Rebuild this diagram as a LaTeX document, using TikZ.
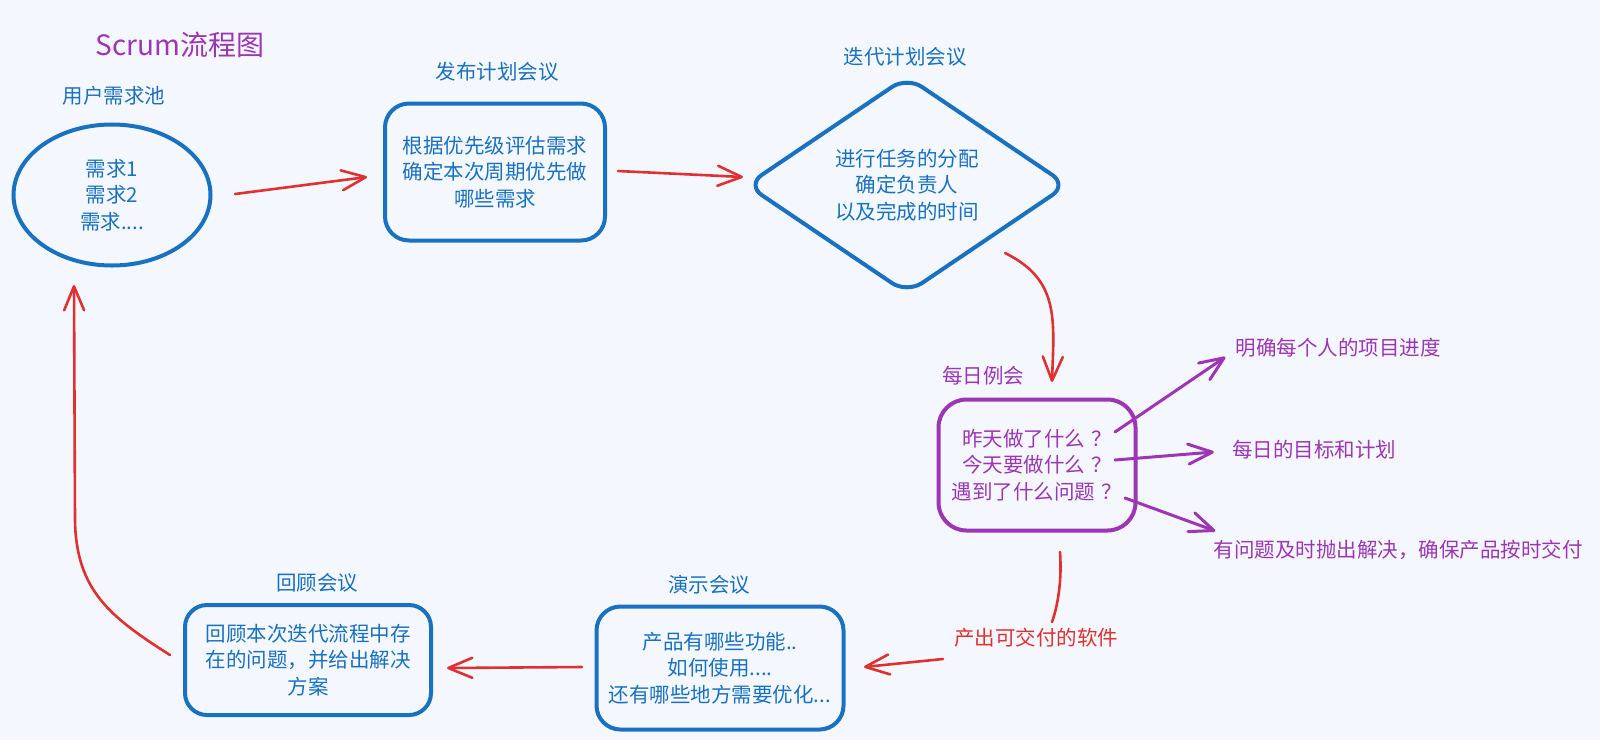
\documentclass[tikz,border=0pt]{standalone}
\usepackage{fontspec}
\setmainfont{Noto Sans CJK SC}
\usetikzlibrary{arrows.meta,shapes.geometric,calc}
\definecolor{bg}{HTML}{F4F8FE}
\definecolor{eblue}{HTML}{1971C2}
\definecolor{ered}{HTML}{E03131}
\definecolor{epurple}{HTML}{9C36B5}
\newcommand{\myqm}{\hspace{0.3em}？}
\begin{document}
\begin{tikzpicture}[x=1pt,y=-1pt,
  txt/.style={font=\fontsize{20.5}{26.5}\selectfont, align=center, inner sep=0pt},
  bluebox/.style={txt, draw=eblue, text=eblue, line width=4pt, rounded corners=24pt},
  bluelbl/.style={txt, text=eblue},
  purplelbl/.style={txt, text=epurple},
  redlbl/.style={txt, text=ered},
  barb/.style={-{Straight Barb[length=24pt,width=20pt,round]}},
  redarrow/.style={draw=ered, line width=2.6pt, line cap=round, barb},
  redline/.style={draw=ered, line width=2.6pt, line cap=round},
  purplearrow/.style={draw=epurple, line width=3pt, line cap=round, barb}
]
\useasboundingbox (0,0) rectangle (1600,740);
\fill[bg] (0,0) rectangle (1600,740);

% title
\node[txt, text=epurple, font=\fontsize{28}{32}\selectfont] (title) at (180,45) {Scrum流程图};

% user pool
\node[bluelbl] (poolLbl) at (114,96) {用户需求池};
\node[txt, ellipse, draw=eblue, text=eblue, line width=4pt, minimum width=197pt, minimum height=141pt] (pool) at (112,195) {需求1\\需求2\\需求....};

% release planning
\node[bluelbl] (relLbl) at (497,72) {发布计划会议};
\node[bluebox, minimum width=220pt, minimum height=137pt] (rel) at (495,172) {根据优先级评估需求\\确定本次周期优先做\\哪些需求};

% iteration planning
\node[bluelbl] (itLbl) at (905,57) {迭代计划会议};
\node[txt, diamond, draw=eblue, text=eblue, line width=4pt, rounded corners=18pt, minimum width=322pt, minimum height=218pt] (it) at (907,185) {进行任务的分配\\确定负责人\\以及完成的时间};

% daily
\node[purplelbl] (dayLbl) at (983,376) {每日例会};
\node[txt, draw=epurple, text=epurple, line width=4pt, rounded corners=28pt, minimum width=197pt, minimum height=131pt] (day) at (1037,465) {昨天做了什么\myqm\\今天要做什么\myqm\\遇到了什么问题\myqm};

\node[purplelbl] (o1) at (1338,348) {明确每个人的项目进度};
\node[purplelbl] (o2) at (1314,450) {每日的目标和计划};
\node[purplelbl] (o3) at (1398,550) {有问题及时抛出解决，确保产品按时交付};

% output label
\node[redlbl] (out) at (1036,638) {产出可交付的软件};

% demo
\node[bluelbl] (demoLbl) at (709,585) {演示会议};
\node[bluebox, minimum width=247pt, minimum height=123pt] (demo) at (720,668) {产品有哪些功能..\\如何使用....\\还有哪些地方需要优化...};

% retrospective
\node[bluelbl] (retroLbl) at (317,583) {回顾会议};
\node[bluebox, minimum width=246pt, minimum height=110pt, rounded corners=22pt] (retro) at (308,660) {回顾本次迭代流程中存\\在的问题，并给出解决\\方案};

% connectors
\draw[redarrow] ($(pool.center)+(123,-1)$) -- ($(rel.center)+(-128,5)$);
\draw[redarrow] ($(rel.center)+(123,-1)$) -- ($(it.center)+(-164,-8)$);
\draw[redarrow] ($(it.center)+(98,68)$) .. controls ($(it.center)+(153,95)$) and ($(day.center)+(17,-145)$) .. ($(day.center)+(15,-83)$);

\draw[purplearrow] ($(day.center)+(78,-33)$) -- ($(o1.west)+(-10,9)$);
\draw[purplearrow] ($(day.center)+(78,-5)$) -- ($(o2.west)+(-18,2)$);
\draw[purplearrow] ($(day.center)+(88,33)$) -- ($(o3.west)+(2,-19)$);

\draw[redline] ($(day.center)+(23,87)$) .. controls ($(day.center)+(25,115)$) and ($(day.center)+(21,140)$) .. ($(out.center)+(16,-16)$);
\draw[redarrow] ($(out.center)+(-93,21)$) -- ($(demo.center)+(144,-1)$);
\draw[redarrow] ($(demo.center)+(-138,-1)$) -- ($(retro.center)+(139,8)$);
\draw[redarrow] ($(retro.center)+(-138,-5)$) .. controls ($(retro.center)+(-198,-43)$) and ($(pool.center)+(-36,395)$) .. ($(pool.center)+(-37,325)$) -- ($(pool.center)+(-38,90)$);
\end{tikzpicture}
\end{document}
